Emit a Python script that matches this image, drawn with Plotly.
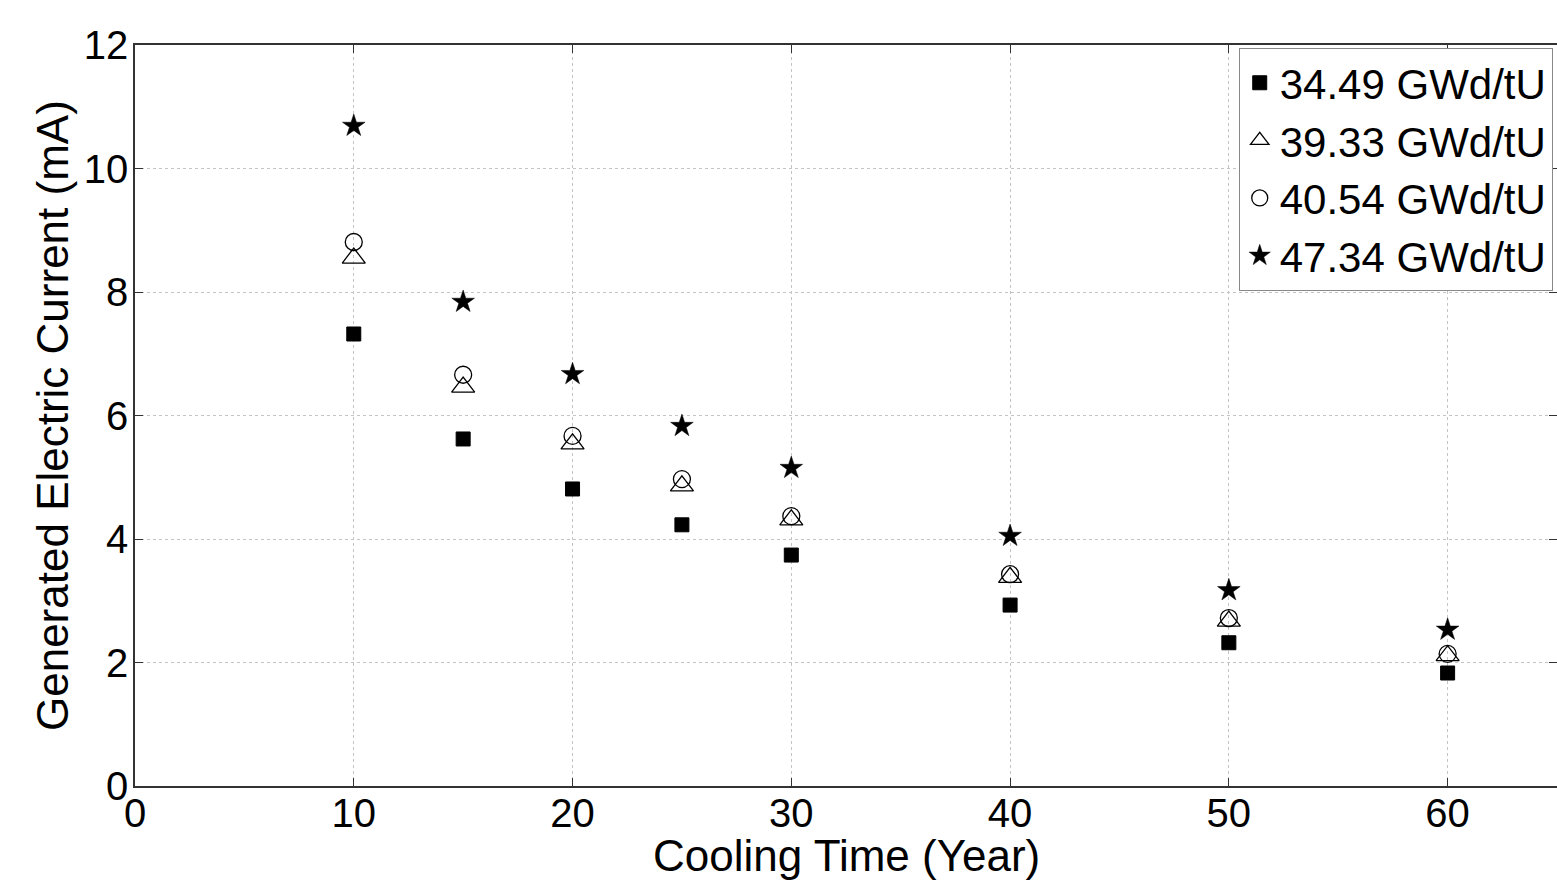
import plotly.graph_objects as go

cooling_time = [10, 15, 20, 25, 30, 40, 50, 60]
series_names = ["34.49 GWd/tU", "39.33 GWd/tU", "40.54 GWd/tU", "47.34 GWd/tU"]
current_3449 = [7.32, 5.62, 4.81, 4.23, 3.74, 2.93, 2.32, 1.83]
current_3933 = [8.55, 6.46, 5.54, 4.86, 4.31, 3.38, 2.67, 2.11]
current_4054 = [8.81, 6.66, 5.67, 4.97, 4.37, 3.43, 2.72, 2.14]
current_4734 = [10.69, 7.84, 6.67, 5.83, 5.15, 4.05, 3.17, 2.53]

x_ticks = [0, 10, 20, 30, 40, 50, 60]
y_ticks = [0, 2, 4, 6, 8, 10, 12]
x_title = "Cooling Time (Year)"
y_title = "Generated Electric Current (mA)"

FONT = "Liberation Sans, Arial, sans-serif"

fig = go.Figure()
styles = [
    dict(symbol="square", size=14, color="black", line=dict(color="black", width=1)),
    dict(symbol="triangle-up-open", size=20, color="black", line=dict(color="black", width=1.3)),
    dict(symbol="circle-open", size=17, color="black", line=dict(color="black", width=1.3)),
    dict(symbol="star", size=17, color="black", line=dict(color="black", width=0.5)),
]
for name, vals, st in zip(series_names, [current_3449, current_3933, current_4054, current_4734], styles):
    fig.add_trace(go.Scatter(x=cooling_time, y=vals, mode="markers", name=name, marker=st))

axis_common = dict(
    showline=True, linecolor="#333", linewidth=1.5, mirror="ticks",
    ticks="inside", ticklen=8, tickcolor="#333",
    showgrid=True, gridcolor="#c4c4c4", griddash="dot", gridwidth=1,
    zeroline=False, automargin=False,
    tickfont=dict(family=FONT, size=40, color="black"),
)

fig.update_layout(
    width=1557, height=882,
    margin=dict(l=135, r=0, t=45, b=96),
    paper_bgcolor="white", plot_bgcolor="white",
    font=dict(family=FONT, color="black"),
    xaxis=dict(axis_common, range=[0, 65], tickvals=x_ticks, ticklabelstandoff=-9),
    yaxis=dict(axis_common, range=[0, 12], tickvals=y_ticks, ticklabelstandoff=-3),
    legend=dict(x=0.997, y=0.996, xanchor="right", yanchor="top",
                bgcolor="white", bordercolor="#888", borderwidth=1,
                font=dict(family=FONT, size=42, color="black"),
                itemwidth=30, tracegroupgap=0),
    showlegend=True,
    annotations=[
        dict(text=x_title, xref="paper", yref="paper", x=0.5, y=-0.094,
             xanchor="center", yanchor="middle", showarrow=False,
             font=dict(family=FONT, size=44, color="black")),
        dict(text=y_title, xref="paper", yref="paper", x=-0.058, y=0.5,
             xanchor="center", yanchor="middle", showarrow=False, textangle=-90,
             font=dict(family=FONT, size=44, color="black")),
    ],
)

fig.write_html("out.html", config={"displayModeBar": False},
               post_script="document.body.style.margin='0';document.body.style.overflow='hidden';")
